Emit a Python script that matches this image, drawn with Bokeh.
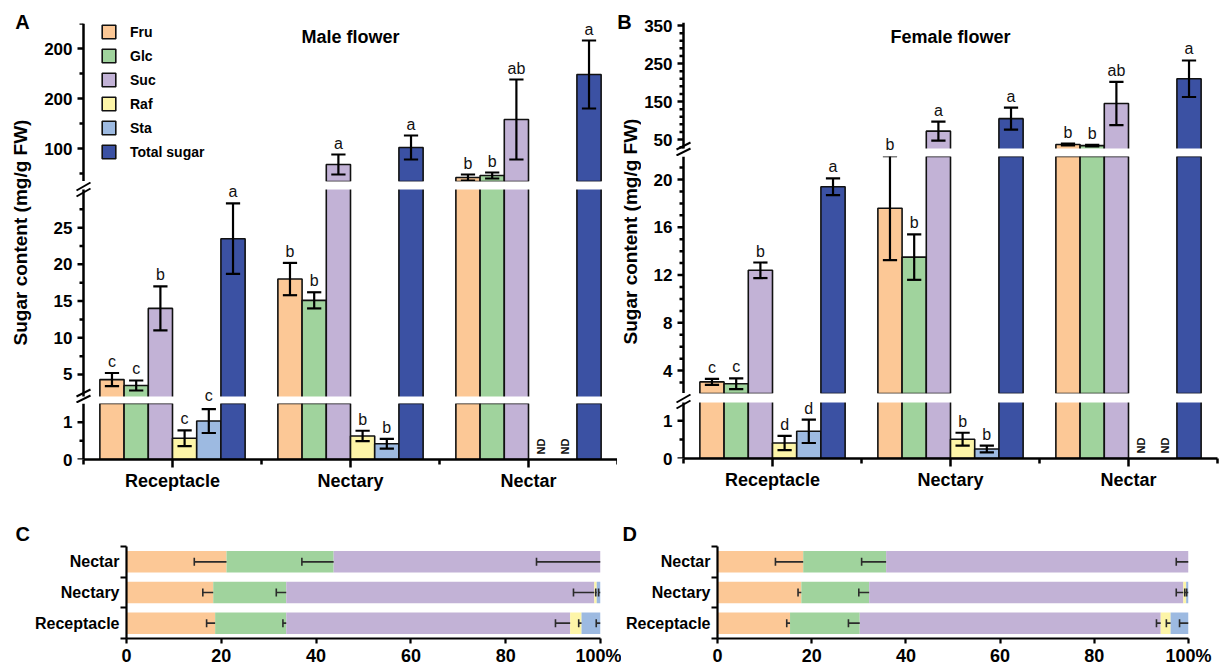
import math
from bokeh.plotting import figure
from bokeh.layouts import row, column
from bokeh.models import Range1d, FixedTicker, Label, Legend, LegendItem
from bokeh.embed import file_html
from bokeh.resources import INLINE

FONT = "Liberation Sans"
NAN = float("nan")

tissues = ["Receptacle", "Nectary", "Nectar"]
sugars = ["Fru", "Glc", "Suc", "Raf", "Sta", "Total sugar"]
colors = ["#FCC896", "#A0D39D", "#C2B2D6", "#FDF5A8", "#9DBAE1", "#3B51A3"]

# ---- Panel A: male flower, sugar content (mg/g FW), order = tissues ----
male_fru = [4.3, 18.0, 42.0]
male_fru_sd = [0.9, 2.2, 6.0]
male_glc = [3.5, 15.1, 46.0]
male_glc_sd = [0.68, 1.1, 6.0]
male_suc = [14.0, 68.0, 158.0]
male_suc_sd = [3.0, 20.0, 80.0]
male_raf = [0.57, 0.63, NAN]
male_raf_sd = [0.21, 0.14, NAN]
male_sta = [1.03, 0.42, NAN]
male_sta_sd = [0.32, 0.13, NAN]
male_total = [23.5, 102.0, 248.0]
male_total_sd = [4.8, 24.0, 68.0]
male_sig_fru = ["c", "b", "b"]
male_sig_glc = ["c", "b", "b"]
male_sig_suc = ["b", "a", "ab"]
male_sig_raf = ["c", "b", "ND"]
male_sig_sta = ["c", "b", "ND"]
male_sig_total = ["a", "a", "a"]

# ---- Panel B: female flower ----
female_fru = [3.05, 17.6, 37.0]
female_fru_sd = [0.25, 4.35, 2.5]
female_glc = [2.9, 13.5, 34.0]
female_glc_sd = [0.45, 1.9, 2.0]
female_suc = [12.4, 72.0, 145.0]
female_suc_sd = [0.65, 25.0, 57.0]
female_raf = [0.41, 0.51, NAN]
female_raf_sd = [0.19, 0.17, NAN]
female_sta = [0.72, 0.25, NAN]
female_sta_sd = [0.31, 0.09, NAN]
female_total = [19.4, 105.0, 210.0]
female_total_sd = [0.7, 29.0, 48.0]
female_sig_fru = ["c", "b", "b"]
female_sig_glc = ["c", "b", "b"]
female_sig_suc = ["b", "a", "ab"]
female_sig_raf = ["d", "b", "ND"]
female_sig_sta = ["d", "b", "ND"]
female_sig_total = ["a", "a", "a"]

# ---- Panels C / D: percentage composition, order = tissues (bottom -> top) ----
c_fru = [18.7, 18.3, 21.1]
c_fru_sd = [1.8, 2.2, 6.8]
c_glc = [15.0, 15.4, 22.6]
c_glc_sd = [0.7, 2.1, 6.7]
c_suc = [59.9, 65.0, 56.3]
c_suc_sd = [3.1, 4.4, 13.5]
c_raf = [2.4, 0.5, 0.0]
c_raf_sd = [0.6, 0.2, 0.0]
c_sta = [4.0, 0.8, 0.0]
c_sta_sd = [0.9, 0.4, 0.0]

d_fru = [15.4, 17.8, 18.2]
d_fru_sd = [0.7, 0.7, 5.9]
d_glc = [14.8, 14.4, 17.6]
d_glc_sd = [2.4, 2.2, 5.2]
d_suc = [63.9, 66.7, 64.2]
d_suc_sd = [0.9, 1.5, 2.6]
d_raf = [2.1, 0.6, 0.0]
d_raf_sd = [0.9, 0.3, 0.0]
d_sta = [3.8, 0.5, 0.0]
d_sta_sd = [1.9, 0.4, 0.0]

# ---- axis ticks (broken axes, bottom -> top segments) ----
a_ticks_low, a_minor_low = [0, 1], [0.5]
a_ticks_mid, a_minor_mid = [5, 10, 15, 20, 25], [7.5, 12.5, 17.5, 22.5, 27.5]
a_ticks_high, a_minor_high = [100, 200, 300], [50, 150, 250, 350]
a_labels_high = ["100", "200", "200"]
b_ticks_low, b_minor_low = [0, 1], [0.5]
b_ticks_mid = [4, 8, 12, 16, 20]
b_minor_mid = [3, 5, 6, 7, 9, 10, 11, 13, 14, 15, 17, 18, 19, 21]
b_ticks_high = [50, 150, 250, 350]
b_minor_high = [30, 70, 90, 110, 130, 170, 190, 210, 230, 270, 290, 310, 330]
pct_ticks = [0, 20, 40, 60, 80, 100]
pct_labels = ["0", "20", "40", "60", "80", "100%"]

# axis extent of each segment (bottom, middle, top)
a_ranges = [(0, 1.5), (2.0, 30.2), (34, 350)]
b_ranges = [(0, 1.48), (2.08, 21.93), (26.4, 358)]
# layout of each segment:
# (border_top, break_gap_above, axis_height_px, break_gap_below, border_bottom)
a_specs = [(0, 0, 56, 0, 36), (0, 8, 207, 7, 0), (23, 0, 158, 0, 0)]
b_specs = [(0, 9, 56, 0, 37), (0, 0, 237, 0, 0), (22, 0, 126, 8, 0)]

BW = 0.136
CAP = 0.08
LEFT_PAD = 8  # px of frame left of the y axis line (room for ticks and break marks)
AXW = 2.5


def style_axis(ax, size="17px", lw=AXW):
    ax.axis_line_width = lw
    ax.axis_line_color = "black"
    ax.major_tick_line_width = lw
    ax.minor_tick_line_width = lw
    ax.major_tick_line_color = "black"
    ax.minor_tick_line_color = "black"
    ax.major_tick_in = 0
    ax.minor_tick_in = 0
    ax.major_label_text_font = FONT
    ax.major_label_text_font_style = "bold"
    ax.major_label_text_font_size = size
    ax.major_label_text_color = "black"


def build_panel(vals, sds, sigs, ranges, specs, tick_sets, width, bl, br, title, title_px, legend):
    frame_w = width - bl - br
    ppx = (frame_w - LEFT_PAD) / 3.0
    xstart = -0.5 - LEFT_PAD / ppx
    heights = [sum(s) for s in specs]
    segs = []
    for k in range(3):
        (a0, a1) = ranges[k]
        bt, gt, fh, gb, bb = specs[k]
        ppu = fh / (a1 - a0)
        r_start = a0 - gb / ppu
        r_end = a1 + gt / ppu
        canvas_top = sum(heights[k + 1:])
        ftop = canvas_top + bt
        fbot = ftop + gt + fh + gb
        tk, mn, lb = tick_sets[k]
        bottom = (k == 0)
        p = figure(width=width, height=heights[k], x_range=Range1d(xstart, 2.5),
                   y_range=Range1d(r_start, r_end), output_backend="svg", toolbar_location=None,
                   x_axis_location="below" if bottom else None,
                   min_border_left=bl, min_border_right=br,
                   min_border_top=bt, min_border_bottom=bb)
        p.outline_line_color = None
        p.grid.visible = False
        # y axis: Bokeh axis supplies the tick labels; its line/ticks are drawn on the
        # data scale at x = -0.5 so that the break marks can cross it
        ya = p.yaxis[0]
        ya.ticker = FixedTicker(ticks=tk, minor_ticks=mn)
        if lb:
            ya.major_label_overrides = {t: l for t, l in zip(tk, lb)}
        style_axis(ya)
        ya.axis_line_color = None
        ya.major_tick_line_color = None
        ya.minor_tick_line_color = None
        ya.major_tick_out = 0
        ya.minor_tick_out = 0
        ya.major_label_standoff = 3
        ya.bounds = (a0, a1)
        if bottom:
            xa = p.xaxis[0]
            xa.ticker = FixedTicker(ticks=[0, 1, 2], minor_ticks=[-0.5, 0.5, 1.5, 2.5])
            xa.major_label_overrides = {i: t for i, t in enumerate(tissues)}
            xa.bounds = (-0.5, 2.5)
            style_axis(xa, "18px")
            xa.major_tick_out = 8
            xa.minor_tick_out = 5
            xa.major_label_standoff = 3

        bar_renderers = []
        for i in range(6):
            xs = [g + (i - 2.5) * BW for g in range(3)]
            tops = [v if (not math.isnan(v) and v > a0) else NAN for v in vals[i]]
            r = p.vbar(x=xs, top=tops, bottom=0, width=BW, fill_color=colors[i],
                       line_color="#111111", line_width=1.6)
            bar_renderers.append(r)
        # white bands = breaks of the axis
        if gt > 0:
            p.quad(left=[xstart], right=[2.5], bottom=[a1], top=[r_end],
                   fill_color="white", line_color=None)
        if gb > 0:
            p.quad(left=[xstart], right=[2.5], bottom=[r_start], top=[a0],
                   fill_color="white", line_color=None)
        # error bars (only those belonging to this segment's axis extent)
        ex0, ey0, ex1, ey1 = [], [], [], []
        for i in range(6):
            for g in range(3):
                m, s = vals[i][g], sds[i][g]
                if math.isnan(m) or m + s < a0 or m - s > r_end:
                    continue
                lo, hi = m - s, m + s
                if gb > 0:
                    lo = max(lo, a0)
                if gt > 0:
                    hi = min(hi, a1)
                x = g + (i - 2.5) * BW
                ex0.append(x); ex1.append(x); ey0.append(lo); ey1.append(hi)
                if hi == m + s:
                    ex0.append(x - CAP / 2); ex1.append(x + CAP / 2); ey0.append(hi); ey1.append(hi)
                if lo == m - s:
                    ex0.append(x - CAP / 2); ex1.append(x + CAP / 2); ey0.append(lo); ey1.append(lo)
        p.segment(x0=ex0, y0=ey0, x1=ex1, y1=ey1, line_color="black", line_width=2.2)

        # y axis line and ticks
        tx0, ty, tx1 = [], [], []
        for t in tk:
            if a0 <= t <= a1:
                tx0.append(-0.5 - 6 / ppx); tx1.append(-0.5); ty.append(t)
        for t in mn:
            if a0 <= t <= a1:
                tx0.append(-0.5 - 4 / ppx); tx1.append(-0.5); ty.append(t)
        p.segment(x0=tx0, y0=ty, x1=tx1, y1=ty, line_color="black", line_width=AXW)
        p.segment(x0=[-0.5], y0=[a0], x1=[-0.5], y1=[a1], line_color="black", line_width=AXW)

        # "//" break marks across the y axis
        bx0, by0, bx1, by1 = [], [], [], []
        if gt > 0:
            for j in (0, 1):
                bx0.append(-0.5 - 7 / ppx); bx1.append(-0.5 + 7 / ppx)
                by0.append(r_end - (9 + 6 * j) / ppu)
                by1.append(r_end - (1 + 6 * j) / ppu)
        if gb > 0:
            for j in (0, 1):
                bx0.append(-0.5 - 7 / ppx); bx1.append(-0.5 + 7 / ppx)
                by0.append(r_start + (7 - 6 * j) / ppu)
                by1.append(r_start + (14 - 6 * j) / ppu)
        if bx0:
            p.segment(x0=bx0, y0=by0, x1=bx1, y1=by1, line_color="black", line_width=2)
        segs.append(dict(fig=p, a0=a0, a1=a1, start=r_start, end=r_end, ppu=ppu,
                         ftop=ftop, fbot=fbot, bars=bar_renderers))

    # significance letters and ND marks (positioned in panel pixels, then mapped
    # into the data scale of the segment frame that can hold the whole letter)
    for i in range(6):
        for g in range(3):
            x = g + (i - 2.5) * BW
            txt = sigs[i][g]
            if txt == "ND":
                s0 = segs[0]
                s0["fig"].add_layout(Label(x=x, y=5 / s0["ppu"], text="ND", angle=math.pi / 2,
                                           text_align="left", text_baseline="middle",
                                           text_font=FONT, text_font_style="bold",
                                           text_font_size="11px", text_color="#111111"))
                continue
            v = vals[i][g] + sds[i][g]
            k = 0
            for kk, s in enumerate(segs):
                if v >= s["a0"]:
                    k = kk
            sc = segs[k]
            cap_px = sc["ftop"] + (sc["end"] - v) * sc["ppu"]
            gh = 12 if any(c in txt for c in "bd") else 9
            want = cap_px - 3
            best = None
            for s in segs:
                lo_a = s["ftop"] + 1 + 3.4 + gh
                hi_a = s["fbot"]
                if lo_a > hi_a:
                    continue
                a = min(max(want, lo_a), hi_a)
                cost = (a - want) * 3 if a > want else (want - a)
                if best is None or cost < best[0]:
                    best = (cost, s, a)
            _, target, anchor = best
            y = target["end"] - (anchor - target["ftop"]) / target["ppu"]
            target["fig"].add_layout(Label(x=x, y=y, text=txt, text_align="center",
                                           text_baseline="bottom",
                                           text_font=FONT, text_font_size="16px",
                                           text_color="#111111"))

    top = segs[2]
    top["fig"].add_layout(Label(x=1, y=top["end"] - title_px / top["ppu"], text=title,
                                text_align="center", text_baseline="middle", text_color="black",
                                text_font=FONT, text_font_style="bold", text_font_size="18px"))
    if legend:
        items = [LegendItem(label=sname, renderers=[top["bars"][i]]) for i, sname in enumerate(sugars)]
        leg = Legend(items=items, location=(25, 21), glyph_width=17, glyph_height=17,
                     label_height=17, label_standoff=13, spacing=7, padding=0, margin=0,
                     border_line_color=None, background_fill_alpha=0,
                     label_text_font=FONT, label_text_font_style="bold",
                     label_text_font_size="14px", label_text_color="black")
        top["fig"].add_layout(leg)
    return column(segs[2]["fig"], segs[1]["fig"], segs[0]["fig"], spacing=0)


def make_label_fig(width, height, letter, lxy, yl_xy):
    p = figure(width=width, height=height, x_range=Range1d(0, width), y_range=Range1d(height, 0),
               output_backend="svg", toolbar_location=None, x_axis_location=None,
               y_axis_location=None, min_border_left=0, min_border_right=0,
               min_border_top=0, min_border_bottom=0)
    p.outline_line_color = None
    p.grid.visible = False
    p.add_layout(Label(x=lxy[0], y=lxy[1], text=letter, text_align="center",
                       text_baseline="middle", text_font=FONT, text_font_style="bold",
                       text_font_size="20px", text_color="black"))
    p.add_layout(Label(x=yl_xy[0], y=yl_xy[1], text="Sugar content (mg/g FW)",
                       angle=math.pi / 2, text_align="center", text_baseline="middle",
                       text_font=FONT, text_font_style="bold", text_font_size="19px",
                       text_color="black"))
    return p


def make_pct(width, bl, br, pcts, sds, letter, letter_left):
    bt, fh, bb = 51, 95, 27
    p = figure(width=width, height=bt + fh + bb, x_range=Range1d(0, 100), y_range=Range1d(0, 3),
               output_backend="svg", toolbar_location=None,
               min_border_left=bl, min_border_right=br, min_border_top=bt, min_border_bottom=bb)
    p.outline_line_color = None
    p.grid.visible = False
    ys = [0.5, 1.5, 2.5]
    left = [0.0, 0.0, 0.0]
    ex0, ey0, ex1, ey1 = [], [], [], []
    for i in range(5):
        right = [l + v for l, v in zip(left, pcts[i])]
        p.hbar(y=ys, left=left, right=right, height=0.7, fill_color=colors[i], line_color=None)
        for j in range(3):
            if sds[i][j] > 0 and pcts[i][j] > 0:
                e0 = right[j] - sds[i][j]
                ex0 += [e0, e0]
                ex1 += [right[j], e0]
                ey0 += [ys[j], ys[j] - 0.13]
                ey1 += [ys[j], ys[j] + 0.13]
        left = right
    p.segment(x0=ex0, y0=ey0, x1=ex1, y1=ey1, line_color="#2b2b2b", line_width=1.6)

    xa = p.xaxis[0]
    xa.ticker = FixedTicker(ticks=pct_ticks, minor_ticks=[])
    xa.major_label_overrides = {t: l for t, l in zip(pct_ticks, pct_labels)}
    style_axis(xa, "18px", 2.2)
    xa.major_tick_out = 5
    xa.major_label_standoff = 2
    ya = p.yaxis[0]
    ya.ticker = FixedTicker(ticks=ys, minor_ticks=[0, 1, 2, 3])
    ya.major_label_overrides = {y: t for y, t in zip(ys, tissues)}
    style_axis(ya, "16px", 2.2)
    ya.major_tick_out = 0
    ya.minor_tick_out = 6
    ya.major_label_standoff = 1

    p.title.text = letter
    p.title.align = "left"
    p.title.offset = letter_left - bl
    p.title.standoff = 3
    p.title.text_font = FONT
    p.title.text_font_style = "bold"
    p.title.text_font_size = "20px"
    p.title.text_color = "black"
    return p


male_vals = [male_fru, male_glc, male_suc, male_raf, male_sta, male_total]
male_sds = [male_fru_sd, male_glc_sd, male_suc_sd, male_raf_sd, male_sta_sd, male_total_sd]
male_sigs = [male_sig_fru, male_sig_glc, male_sig_suc, male_sig_raf, male_sig_sta, male_sig_total]
female_vals = [female_fru, female_glc, female_suc, female_raf, female_sta, female_total]
female_sds = [female_fru_sd, female_glc_sd, female_suc_sd, female_raf_sd, female_sta_sd, female_total_sd]
female_sigs = [female_sig_fru, female_sig_glc, female_sig_suc, female_sig_raf, female_sig_sta, female_sig_total]

a_tick_sets = [(a_ticks_low, a_minor_low, None), (a_ticks_mid, a_minor_mid, None),
               (a_ticks_high, a_minor_high, a_labels_high)]
b_tick_sets = [(b_ticks_low, b_minor_low, None), (b_ticks_mid, b_minor_mid, None),
               (b_ticks_high, b_minor_high, None)]

A_stack = build_panel(male_vals, male_sds, male_sigs, a_ranges, a_specs, a_tick_sets,
                      581, 39, 0, "Male flower", 13, True)
B_stack = build_panel(female_vals, female_sds, female_sigs, b_ranges, b_specs, b_tick_sets,
                      582, 34, 6, "Female flower", 14.5, False)
A_lab = make_label_fig(36, 495, "A", (22, 21), (20, 232))
B_lab = make_label_fig(24, 495, "B", (7, 21), (13, 231))

C_fig = make_pct(621, 126, 21, [c_fru, c_glc, c_suc, c_raf, c_sta],
                 [c_fru_sd, c_glc_sd, c_suc_sd, c_raf_sd, c_sta_sd], "C", 15)
D_fig = make_pct(602, 96, 35, [d_fru, d_glc, d_suc, d_raf, d_sta],
                 [d_fru_sd, d_glc_sd, d_suc_sd, d_raf_sd, d_sta_sd], "D", 1)

layout = column(row(A_lab, A_stack, B_lab, B_stack, spacing=0),
                row(C_fig, D_fig, spacing=0), spacing=0)

open("out.html", "w").write(file_html(layout, INLINE, "Sugar content"))
